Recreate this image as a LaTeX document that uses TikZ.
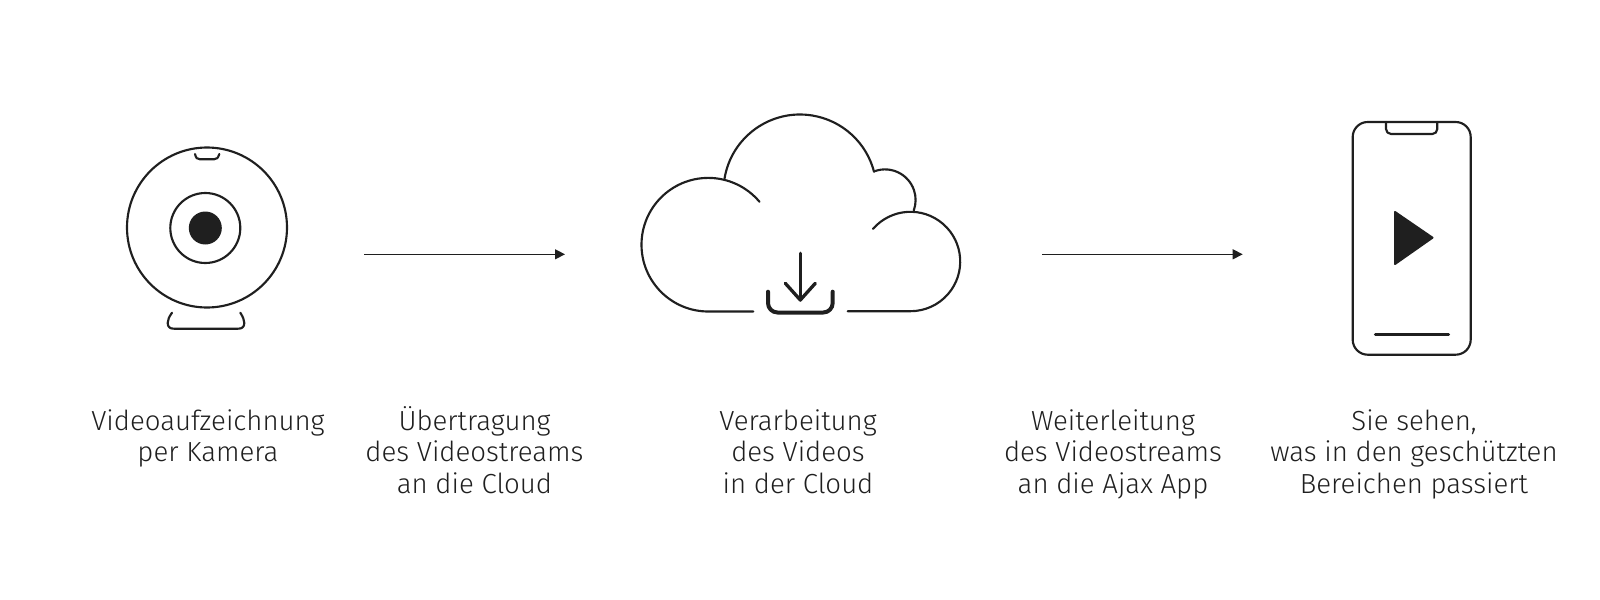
\documentclass[tikz,border=0pt]{standalone}
\usepackage{fontspec}
\setmainfont{Fira Sans Light}
\usepackage{tikz}
\usetikzlibrary{arrows.meta, positioning, calc}
\definecolor{inkdark}{HTML}{1F1F1F}
\tikzset{
  icon/.style={draw=inkdark, line width=1.6pt, line cap=round, line join=round},
  iconbold/.style={icon, line width=2.5pt},
  flow/.style={draw=inkdark, line width=1pt, -{Triangle[length=7.5pt,width=7.5pt]}},
  caption/.style={align=center, anchor=base, text=inkdark, font=\fontsize{20.7}{23.7}\selectfont},
}
\begin{document}
\begin{tikzpicture}[x=.75pt,y=-.75pt]
\useasboundingbox (0,0) rectangle (1600,600);

% camera
\draw[icon] (207,227.5) circle (80);
\draw[icon] (205.3,228) circle (35);
\fill[inkdark] (205.3,228) circle (16.5);
\draw[icon] (195,154) .. controls (196,158) and (197,159.3) .. (200,159.3) -- (214,159.3)
  .. controls (217,159.3) and (218,158) .. (219.3,154);
\draw[icon] (172,312.7) .. controls (169,317) and (167.7,320) .. (167.7,323) .. controls (167.7,327) and (170,328.7) .. (174,328.7)
  -- (238,328.7) .. controls (242,328.7) and (244.3,327) .. (244.3,323) .. controls (244.3,320) and (243,317) .. (240.3,312.7);

% cloud
\draw[icon] (753.3,311.5) -- (708.3,311.5) arc[start angle=90, end angle=320, radius=66.8];
\draw[icon] ($(800,191)+(-170.7:76.5)$) arc[start angle=-170.7, end angle=-14.5, radius=76.5];
\draw[icon] ($(885,200)+(-109:30.6)$) arc[start angle=-109, end angle=20, radius=30.6];
\draw[icon] ($(910.5,261.5)+(-139:49.7)$) arc[start angle=-139, end angle=90, radius=49.7] -- (847.7,311.2);
% download
\draw[iconbold] (800.3,253.3) -- (800.3,300);
\draw[iconbold] (785.3,283.3) -- (800.3,300) -- (815.3,283.3);
\draw[iconbold, line width=3pt] (768,291.7) -- (768,303) arc[start angle=180, end angle=90, radius=9.5]
  -- (823.2,312.5) arc[start angle=90, end angle=0, radius=9.5] -- (832.7,291.7);

% phone
\draw[icon] (1352.7,137) arc[start angle=180, end angle=270, radius=15] -- (1455.7,122) arc[start angle=270, end angle=360, radius=15]
  -- (1470.7,339.7) arc[start angle=0, end angle=90, radius=15] -- (1367.7,354.7) arc[start angle=90, end angle=180, radius=15] -- cycle;
\draw[icon] (1386,122) -- (1386,129) arc[start angle=180, end angle=90, radius=5] -- (1432.3,134)
  arc[start angle=90, end angle=0, radius=5] -- (1437.3,122);
\fill[inkdark, draw=inkdark, line width=1.5pt, line join=round] (1395,212) -- (1432.5,237.7) -- (1395,264) -- cycle;
\draw[iconbold] (1375.5,334.7) -- (1448.5,334.7);

% arrows
\coordinate (streamStart) at (364.3,254.3);
\coordinate (streamEnd) at (565,254.3);
\coordinate (appStart) at (1042.3,254.3);
\coordinate (appEnd) at (1242.7,254.3);
\draw[flow] (streamStart) -- (streamEnd);
\draw[flow] (appStart) -- (appEnd);

% labels
\node[caption] (record) at (208,461.7) {Videoaufzeichnung\\per Kamera};
\node[caption] (upload) at (474.5,493.3) {Übertragung\\des Videostreams\\an die Cloud};
\node[caption] (process) at (798,493.3) {Verarbeitung\\des Videos\\in der Cloud};
\node[caption] (forward) at (1113,493.3) {Weiterleitung\\des Videostreams\\an die Ajax App};
\node[caption] (watch) at (1414,493.3) {Sie sehen,\\was in den geschützten\\Bereichen passiert};
\end{tikzpicture}
\end{document}
